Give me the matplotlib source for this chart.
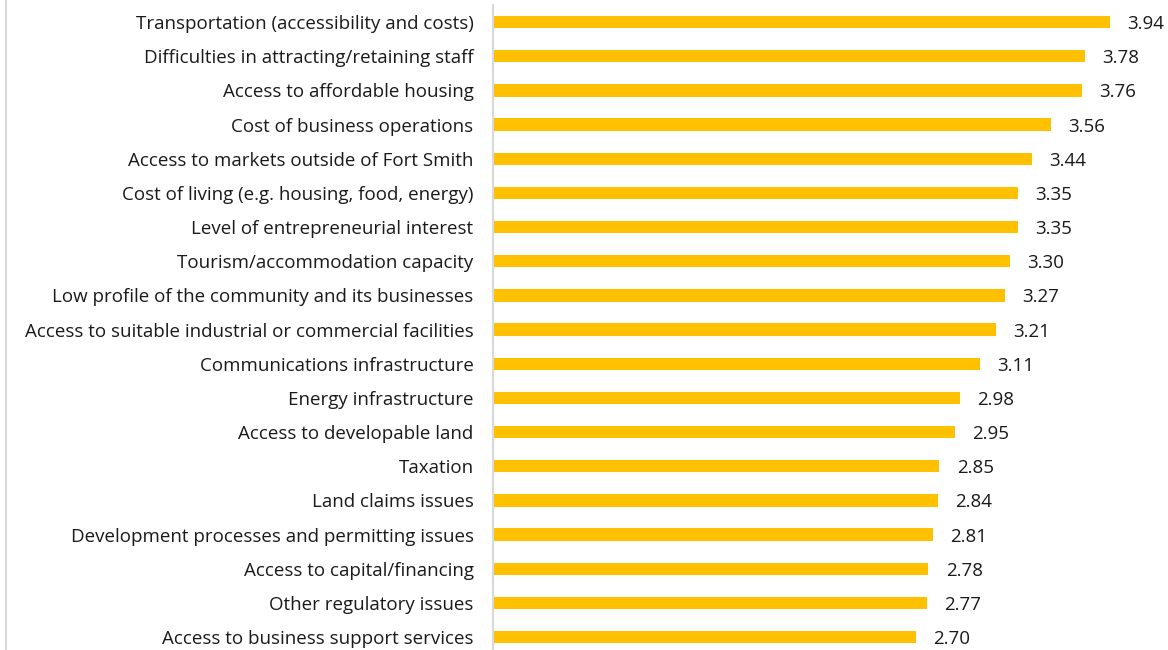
import matplotlib.pyplot as plt
from matplotlib.lines import Line2D

# Data
factors = [
    'Transportation (accessibility and costs)',
    'Difficulties in attracting/retaining staff',
    'Access to affordable housing',
    'Cost of business operations',
    'Access to markets outside of Fort Smith',
    'Cost of living (e.g. housing, food, energy)',
    'Level of entrepreneurial interest',
    'Tourism/accommodation capacity',
    'Low profile of the community and its businesses',
    'Access to suitable industrial or commercial facilities',
    'Communications infrastructure',
    'Energy infrastructure',
    'Access to developable land',
    'Taxation',
    'Land claims issues',
    'Development processes and permitting issues',
    'Access to capital/financing',
    'Other regulatory issues',
    'Access to business support services',
]
scores = [3.94, 3.78, 3.76, 3.56, 3.44, 3.35, 3.35, 3.30, 3.27, 3.21,
          3.11, 2.98, 2.95, 2.85, 2.84, 2.81, 2.78, 2.77, 2.70]

plt.rcParams['font.family'] = ['Open Sans', 'DejaVu Sans']

fig = plt.figure(figsize=(11.68, 6.5), dpi=100)
ax = fig.add_axes([493 / 1168, 0.0, 1 - 493 / 1168, 645 / 650])

pos = list(range(len(factors)))
ax.barh(pos, scores, height=0.36, color='#FFC000')

for y, v in zip(pos, scores):
    ax.annotate(f'{v:.2f}', (v, y), xytext=(12.5, -1.5), textcoords='offset points',
                va='center', ha='left', fontsize=13.5, color='#1a1a1a')

ax.set_yticks(pos)
ax.set_yticklabels(factors, fontsize=13.5, color='#1a1a1a')
ax.tick_params(axis='y', length=0, pad=14)
ax.set_xticks([])
ax.set_xlim(0, 4.31)
ax.set_ylim(18.38, -0.5)

for s in ['top', 'right', 'bottom']:
    ax.spines[s].set_visible(False)
ax.spines['left'].set_color('#d9d9d9')
ax.spines['left'].set_linewidth(1.5)

# thin frame line at the far left
fig.add_artist(Line2D([6 / 1168, 6 / 1168], [0, 1], color='#d9d9d9', linewidth=1.5))

fig.savefig('out.png', dpi=100)
